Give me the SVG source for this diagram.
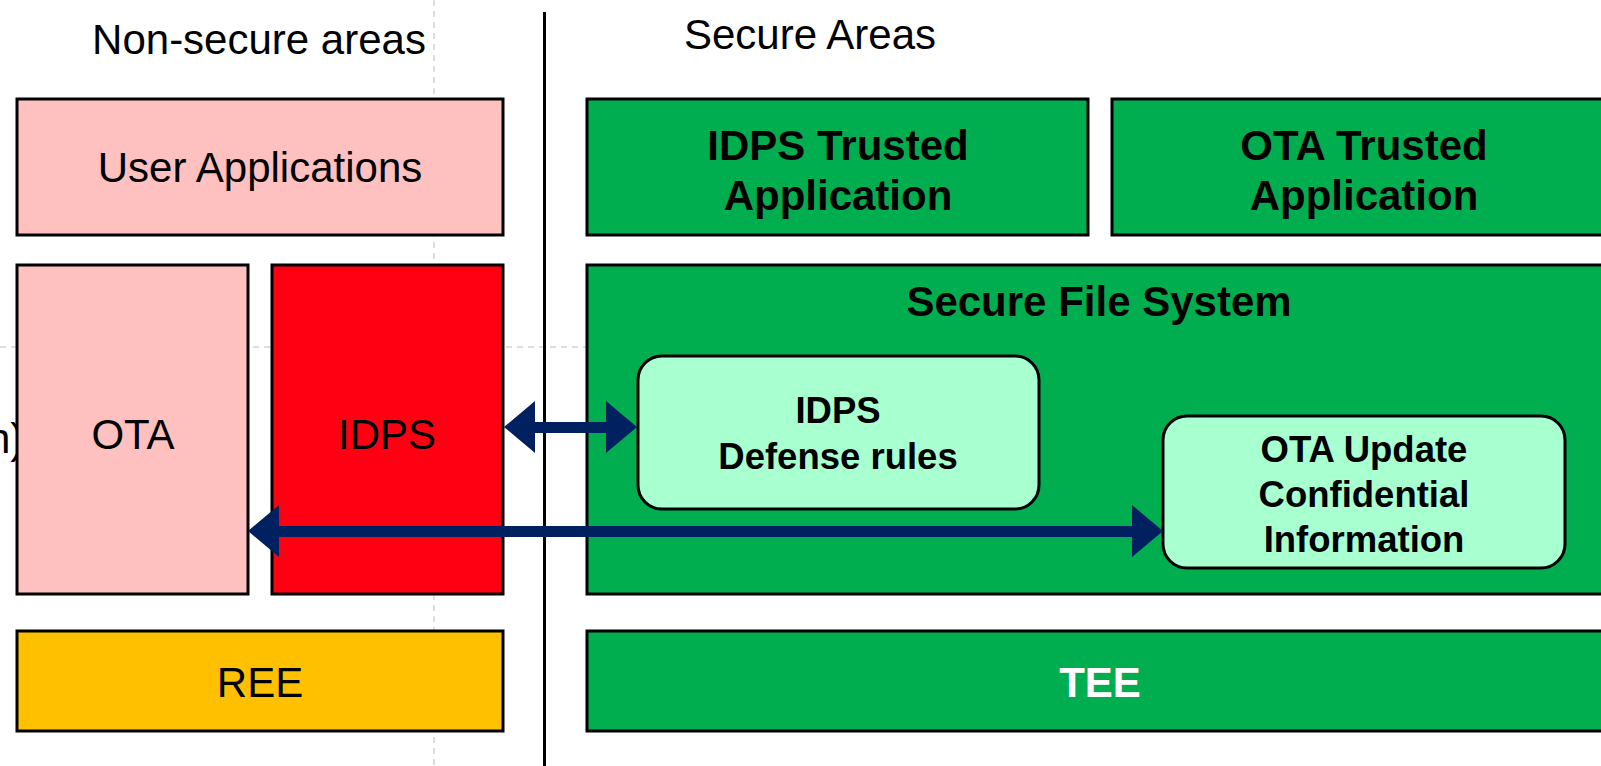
<svg xmlns="http://www.w3.org/2000/svg" width="1601" height="766" viewBox="0 0 1601 766">
<defs>
<style>
.t{font-family:"Liberation Sans",Arial,sans-serif;font-size:42px;fill:#000;text-anchor:middle}
.b{font-weight:bold}
.s{font-size:36.5px;font-weight:bold}
.box{stroke:#000;stroke-width:3}
.pink{fill:#FFC0C0}
.red{fill:#FF0013}
.green{fill:#00AE50}
.lg{fill:#A8FFD0}
.gold{fill:#FFC000}
.guide{stroke:#D4D4D4;stroke-width:1.5;stroke-dasharray:6 5;fill:none}
.arrow{fill:#002060}
</style>
</defs>
<rect width="1601" height="766" fill="#fff"/>
<g id="guides">
<line class="guide" x1="434" y1="0" x2="434" y2="766"/>
<line class="guide" x1="0" y1="347" x2="1601" y2="347"/>
</g>
<text class="t" x="-13" y="453" style="text-anchor:start">n)</text>
<g id="labels">
<text class="t" x="259" y="54">Non-secure areas</text>
<text class="t" x="810" y="49">Secure Areas</text>
</g>
<line id="divider" x1="544.5" y1="12" x2="544.5" y2="766" stroke="#000" stroke-width="3"/>
<g id="user-applications">
<rect class="box pink" x="17" y="99" width="486" height="136"/>
<text class="t" x="260" y="182">User Applications</text>
</g>
<g id="idps-trusted-app">
<rect class="box green" x="587" y="99" width="501" height="136"/>
<text class="t b" x="838" y="160">IDPS Trusted</text>
<text class="t b" x="838" y="210">Application</text>
</g>
<g id="ota-trusted-app">
<rect class="box green" x="1112" y="99" width="510" height="136"/>
<text class="t b" x="1364" y="160">OTA Trusted</text>
<text class="t b" x="1364" y="210">Application</text>
</g>
<g id="ota">
<rect class="box pink" x="17" y="265" width="231" height="329"/>
<text class="t" x="133" y="449">OTA</text>
</g>
<g id="idps">
<rect class="box red" x="272" y="265" width="231" height="329"/>
<text class="t" x="387" y="449">IDPS</text>
</g>
<g id="secure-file-system">
<rect class="box green" x="587" y="265" width="1035" height="329"/>
<text class="t b" x="1099" y="316">Secure File System</text>
</g>
<g id="idps-defense-rules">
<rect class="box lg" x="638" y="356" width="401" height="153" rx="24" ry="24"/>
<text class="t s" x="838" y="423">IDPS</text>
<text class="t s" x="838" y="469">Defense rules</text>
</g>
<g id="ota-update-info">
<rect class="box lg" x="1163" y="416" width="402" height="152" rx="24" ry="24"/>
<text class="t s" x="1364" y="462">OTA Update</text>
<text class="t s" x="1364" y="507">Confidential</text>
<text class="t s" x="1364" y="552">Information</text>
</g>
<g id="ree">
<rect class="box gold" x="17" y="631" width="486" height="100"/>
<text class="t" x="260" y="697">REE</text>
</g>
<g id="tee">
<rect class="box green" x="587" y="631" width="1035" height="100"/>
<text class="t b" x="1100" y="697" style="fill:#fff">TEE</text>
</g>
<g id="connectors">
<path class="arrow" d="M504,427 L535,401 L535,422 L606,422 L606,401 L637,427 L606,453 L606,433 L535,433 L535,453 Z"/>
<path class="arrow" d="M248,531 L279,505 L279,526 L1132,526 L1132,505 L1163,531 L1132,557 L1132,537 L279,537 L279,557 Z"/>
</g>
</svg>
